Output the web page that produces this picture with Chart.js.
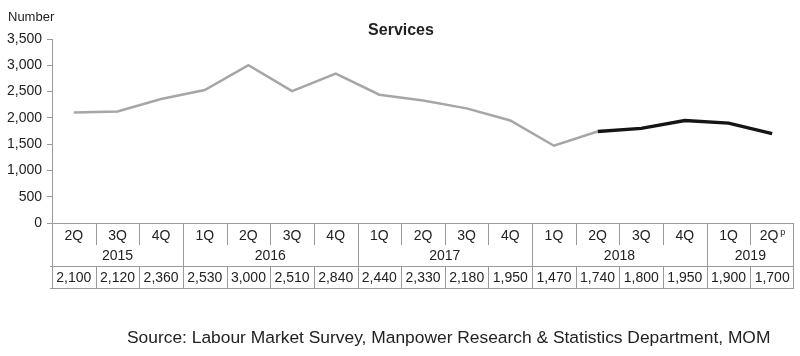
<!DOCTYPE html>
<html>
<head>
<meta charset="utf-8">
<script src="https://cdn.jsdelivr.net/npm/chart.js@4"></script>
<style>
  body { margin: 0; background: #fff; }
  #wrap { width: 800px; height: 356px; }
</style>
</head>
<body>
<div id="wrap"><canvas id="servicesChart" width="800" height="356"></canvas></div>
<script>
// Quarter labels and the values for each quarter
const quarters = ['2Q', '3Q', '4Q', '1Q', '2Q', '3Q', '4Q', '1Q', '2Q', '3Q', '4Q', '1Q', '2Q', '3Q', '4Q', '1Q', '2Q'];
const years = ['2015', '2016', '2017', '2018', '2019'];
const quartersPerYear = [3, 4, 4, 4, 2];
const values = [2100, 2120, 2360, 2530, 3000, 2510, 2840, 2440, 2330, 2180, 1950, 1470, 1740, 1800, 1950, 1900, 1700];
const provisionalIndex = 16; // 2Q 2019 is preliminary ("p")
const splitIndex = 12;       // black line starts at 2Q 2018

const yTicks = [0, 500, 1000, 1500, 2000, 2500, 3000, 3500];

const greySeries = values.map((v, i) => (i <= splitIndex ? v : null));
const blackSeries = values.map((v, i) => (i >= splitIndex ? v : null));

const FONT = 'Arial, "Liberation Sans", sans-serif';
const TEXT = '#222';
const LINE = '#9a9a9a';

function fmt(n) {
    return n.toLocaleString('en-US');
}

// Draws title, "Number" unit label, the quarter/year/value table and source line
const tablePlugin = {
    id: 'tablePlugin',
    afterDraw(chart) {
        const ctx = chart.ctx;
        const area = chart.chartArea;
        const xs = chart.scales.x;
        const half = (xs.getPixelForValue(1) - xs.getPixelForValue(0)) / 2;
        const left = area.left;
        const right = area.right;
        const top = area.bottom;
        const qBottom = 245;
        const vTop = 266.5;
        const vBottom = 288.5;

        ctx.save();

        // title and unit
        ctx.fillStyle = TEXT;
        ctx.textBaseline = 'middle';
        ctx.font = 'bold 16px ' + FONT;
        ctx.textAlign = 'center';
        ctx.fillText('Services', 401, 31);
        ctx.font = '13px ' + FONT;
        ctx.textAlign = 'left';
        ctx.fillText('Number', 8, 17);

        // table lines
        ctx.strokeStyle = LINE;
        ctx.lineWidth = 1;
        ctx.beginPath();
        ctx.moveTo(left - 2, Math.round(top) + 0.5);
        ctx.lineTo(right, Math.round(top) + 0.5);
        ctx.moveTo(left - 2, vTop);
        ctx.lineTo(right, vTop);
        ctx.moveTo(left - 2, vBottom);
        ctx.lineTo(right, vBottom);

        // outer borders
        ctx.moveTo(Math.round(left) + 0.5, top);
        ctx.lineTo(Math.round(left) + 0.5, vBottom);
        ctx.moveTo(Math.round(right) - 0.5, top);
        ctx.lineTo(Math.round(right) - 0.5, vBottom);

        // column separators
        let yearEnd = [];
        let acc = 0;
        quartersPerYear.forEach(c => { acc += c; yearEnd.push(acc - 1); });
        for (let i = 0; i < quarters.length - 1; i++) {
            const x = Math.round(xs.getPixelForValue(i) + half) + 0.5;
            const full = yearEnd.includes(i);
            ctx.moveTo(x, top);
            ctx.lineTo(x, full ? vBottom : qBottom);
            if (!full) {
                ctx.moveTo(x, vTop);
                ctx.lineTo(x, vBottom);
            }
        }
        ctx.stroke();

        // quarter labels
        ctx.fillStyle = TEXT;
        ctx.font = '14px ' + FONT;
        ctx.textAlign = 'center';
        quarters.forEach((q, i) => {
            const x = xs.getPixelForValue(i);
            if (i === provisionalIndex) {
                ctx.fillText(q, x - 3, 236);
                ctx.font = '9px ' + FONT;
                ctx.textAlign = 'left';
                ctx.fillText('p', x + 8, 233);
                ctx.font = '14px ' + FONT;
                ctx.textAlign = 'center';
            } else {
                ctx.fillText(q, x, 236);
            }
        });

        // year labels, centred over their quarters
        let start = 0;
        years.forEach((y, k) => {
            const end = start + quartersPerYear[k] - 1;
            const x0 = xs.getPixelForValue(start) - half;
            const x1 = xs.getPixelForValue(end) + half;
            ctx.fillText(y, (x0 + x1) / 2, 256);
            start = end + 1;
        });

        // values row
        values.forEach((v, i) => {
            ctx.fillText(fmt(v), xs.getPixelForValue(i), 278);
        });

        // source
        ctx.font = '17.4px ' + FONT;
        ctx.textAlign = 'left';
        ctx.fillText('Source: Labour Market Survey, Manpower Research & Statistics Department, MOM', 127, 338);

        ctx.restore();
    }
};

const ctx = document.getElementById('servicesChart').getContext('2d');
const servicesChart = new Chart(ctx, {
    type: 'line',
    data: {
        labels: quarters,
        datasets: [{
            data: greySeries,
            borderColor: '#a6a6a6',
            borderWidth: 2.5,
            pointRadius: 0,
            tension: 0,
            spanGaps: false
        }, {
            data: blackSeries,
            borderColor: '#151515',
            borderWidth: 3.5,
            pointRadius: 0,
            tension: 0,
            spanGaps: false
        }]
    },
    options: {
        responsive: false,
        animation: false,
        layout: {
            padding: { top: 39, right: 6, bottom: 133, left: 0 }
        },
        plugins: {
            legend: { display: false },
            tooltip: { enabled: false },
            title: { display: false }
        },
        scales: {
            x: {
                display: false,
                offset: true
            },
            y: {
                min: 0,
                max: 3500,
                afterFit(scale) { scale.width = 52; },
                afterBuildTicks(scale) { scale.ticks = yTicks.map(v => ({ value: v })); },
                grid: {
                    drawOnChartArea: false,
                    tickLength: 5,
                    color: LINE
                },
                border: { color: LINE, width: 1 },
                ticks: {
                    padding: 5,
                    color: TEXT,
                    font: { family: FONT, size: 14 },
                    callback: v => fmt(v)
                }
            }
        }
    },
    plugins: [tablePlugin]
});
</script>
</body>
</html>
